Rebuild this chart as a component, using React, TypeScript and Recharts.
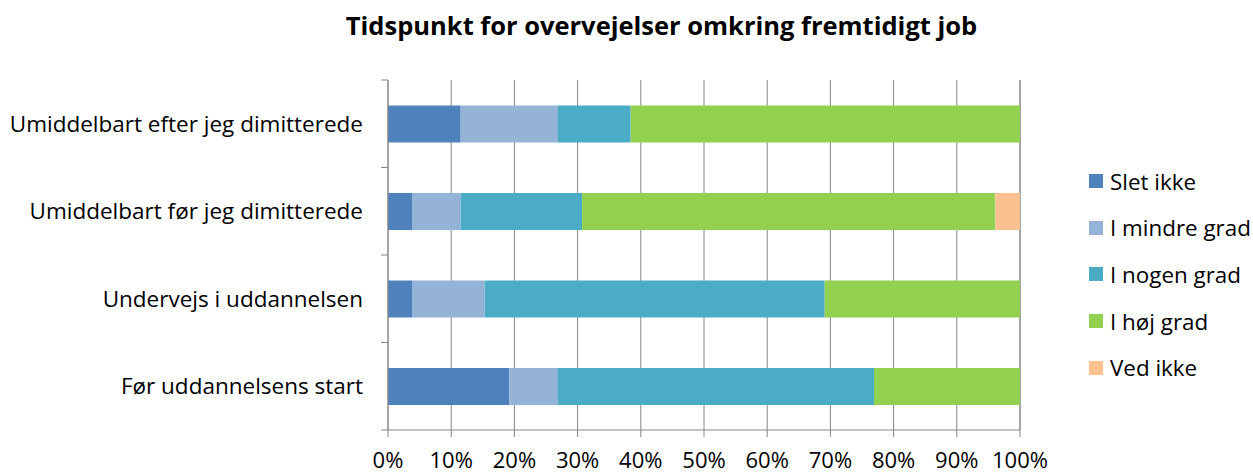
import { BarChart, Bar, XAxis, YAxis, CartesianGrid } from "recharts";

const categories = [
	"Umiddelbart efter jeg dimitterede",
	"Umiddelbart før jeg dimitterede",
	"Undervejs i uddannelsen",
	"Før uddannelsens start",
];

// percentages per category (same order as categories)
const sletIkke = [11.5, 3.8, 3.8, 19.2];
const mindreGrad = [15.4, 7.7, 11.5, 7.7];
const nogenGrad = [11.5, 19.2, 53.8, 50.0];
const hojGrad = [61.6, 65.4, 30.9, 23.1];
const vedIkke = [0, 3.9, 0, 0];

const xTicks = [0, 10, 20, 30, 40, 50, 60, 70, 80, 90, 100];

const series = [
	{ key: "Slet ikke", values: sletIkke, color: "#4F81BD" },
	{ key: "I mindre grad", values: mindreGrad, color: "#95B3D7" },
	{ key: "I nogen grad", values: nogenGrad, color: "#4BACC6" },
	{ key: "I høj grad", values: hojGrad, color: "#92D050" },
	{ key: "Ved ikke", values: vedIkke, color: "#FAC090" },
];

const FONT = "'Open Sans', sans-serif";
const AXIS = "#868686";

const W = 1253;
const H = 473;
const TOP = 80;
const BOTTOM = 43;
const LEFT = 388;
const RIGHT = 233;
const band = (H - TOP - BOTTOM) / categories.length;

const data = categories.map((name, i) => {
	const row: any = { name };
	series.forEach((s) => (row[s.key] = s.values[i]));
	return row;
});

function CategoryTick(props: any) {
	const { y, payload, index } = props;
	const last = index === categories.length - 1;
	return (
		<g>
			<line x1={LEFT - 7} x2={LEFT} y1={y - band / 2} y2={y - band / 2} stroke={AXIS} />
			{last && <line x1={LEFT - 7} x2={LEFT} y1={y + band / 2} y2={y + band / 2} stroke={AXIS} />}
			<text x={LEFT - 25} y={y} dy={8} textAnchor="end" fontSize={22.5} fill="#000" fontFamily={FONT}>
				{payload.value}
			</text>
		</g>
	);
}

export default function App() {
	return (
		<div style={{ position: "absolute", left: 0, top: 0, width: W, height: H, background: "#fff" }}>
			<div
				style={{
					position: "absolute",
					top: 8,
					left: 0,
					width: W,
					textAlign: "center",
					paddingLeft: 70,
					boxSizing: "border-box",
					fontFamily: FONT,
					fontWeight: 700,
					fontSize: 25.5,
				}}
			>
				Tidspunkt for overvejelser omkring fremtidigt job
			</div>
			<BarChart
				width={W}
				height={H}
				data={data}
				layout="vertical"
				margin={{ top: TOP, right: RIGHT, bottom: 0, left: 0 }}
				barCategoryGap="29%"
			>
				<CartesianGrid horizontal={false} vertical={true} stroke={AXIS} strokeWidth={1} />
				<XAxis
					type="number"
					domain={[0, 100]}
					ticks={xTicks}
					tickFormatter={(v) => `${v}%`}
					height={BOTTOM}
					stroke={AXIS}
					tickSize={7}
					tickMargin={15}
					tick={{ fill: "#000", fontSize: 22, fontFamily: FONT }}
					interval={0}
				/>
				<YAxis
					type="category"
					dataKey="name"
					width={LEFT}
					stroke={AXIS}
					tickLine={false}
					tick={<CategoryTick />}
					interval={0}
				/>
				{series.map((s) => (
					<Bar key={s.key} dataKey={s.key} stackId="a" fill={s.color} isAnimationActive={false} />
				))}
			</BarChart>
			<div style={{ position: "absolute", left: 1089, top: 158, fontFamily: FONT, fontSize: 22.4, color: "#000" }}>
				{series.map((s) => (
					<div key={s.key} style={{ display: "flex", alignItems: "center", height: 46.6, whiteSpace: "nowrap" }}>
						<span style={{ width: 14, height: 14, background: s.color, marginRight: 7, display: "inline-block" }} />
						<span>{s.key}</span>
					</div>
				))}
			</div>
		</div>
	);
}
